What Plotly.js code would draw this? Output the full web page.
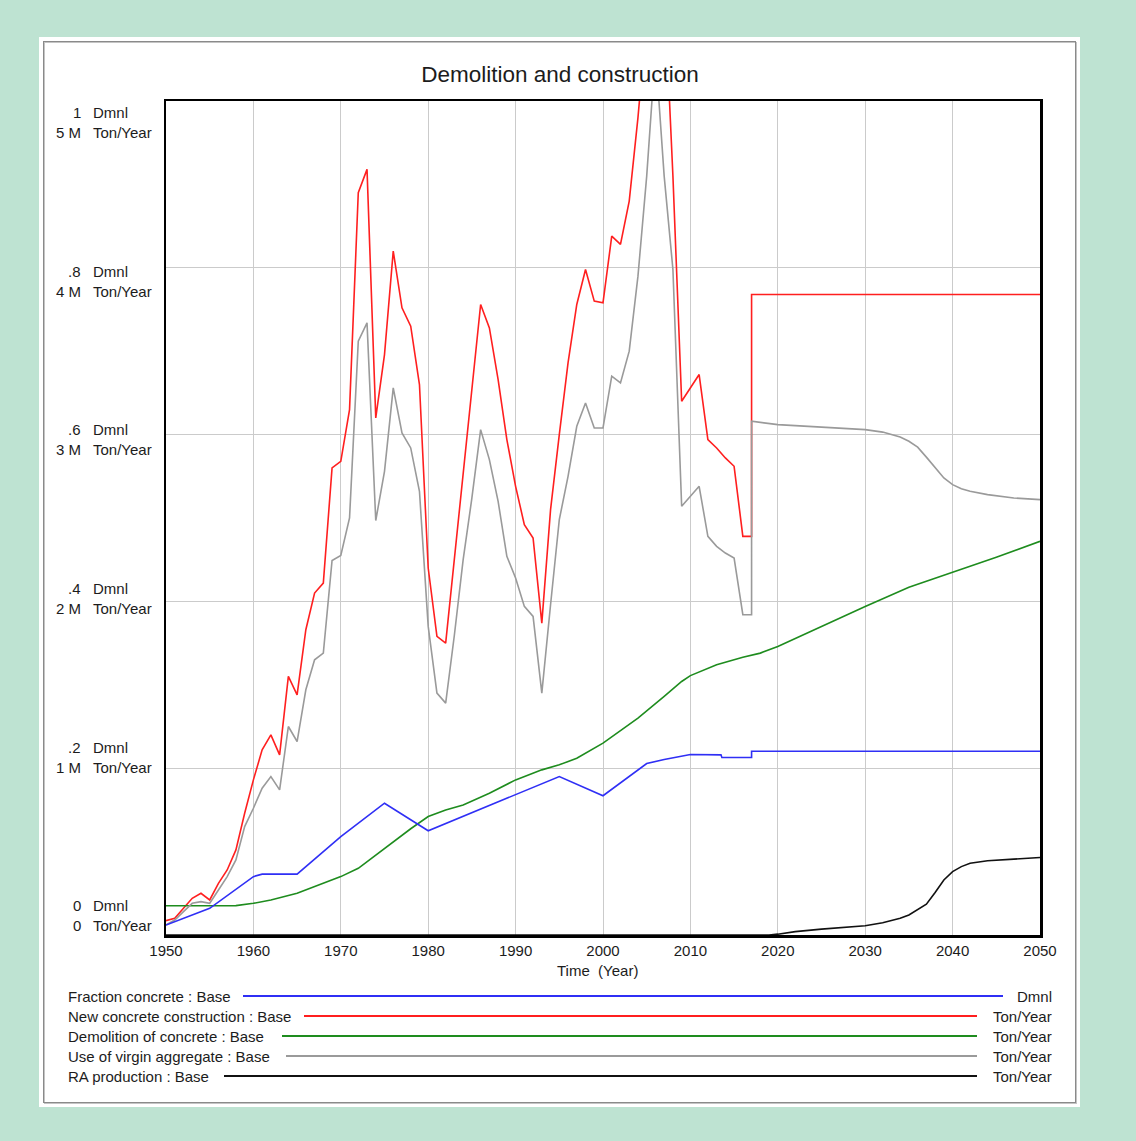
<!DOCTYPE html>
<html>
<head>
<meta charset="utf-8">
<script src="https://cdn.plot.ly/plotly-3.0.1.min.js"></script>
<style>
  html, body { margin:0; padding:0; width:1136px; height:1141px; background:#bee3d2; overflow:hidden; }
  #panel { position:absolute; left:39px; top:37px; width:1041px; height:1070px; background:#ffffff; }
  #frame { position:absolute; left:43px; top:41px; width:1031px; height:1060px; border:1px solid #8a8a8a; box-shadow: inset 1px 1px 0 #c4c4c4, 1px 1px 0 #c4c4c4; }
  #chart { position:absolute; left:0; top:0; width:1136px; height:1141px; }
</style>
</head>
<body>
<div id="panel"></div>
<div id="frame"></div>
<div id="chart"></div>
<script>
// ---------------- DATA ----------------
const histYears = [1950,1951,1952,1953,1954,1955,1956,1957,1958,1959,
                   1960,1961,1962,1963,1964,1965,1966,1967,1968,1969,
                   1970,1971,1972,1973,1974,1975,1976,1977,1978,1979,
                   1980,1981,1982,1983,1984,1985,1986,1987,1988,1989,
                   1990,1991,1992,1993,1994,1995,1996,1997,1998,1999,
                   2000,2001,2002,2003,2004,2005,2006,2007,2008,2009,
                   2010,2011,2012,2013,2014,2015,2016,2017];

// New concrete construction (million Ton/Year)
const newConstructionHist = [0.086,0.10,0.16,0.22,0.25,0.21,0.31,0.39,0.51,0.73,
                             0.93,1.11,1.20,1.08,1.55,1.44,1.83,2.05,2.11,2.80,
                             2.84,3.15,4.45,4.59,3.10,3.48,4.10,3.76,3.65,3.30,
                             2.20,1.79,1.75,2.25,2.75,3.25,3.78,3.64,3.33,2.97,
                             2.69,2.46,2.38,1.87,2.55,3.00,3.43,3.78,3.99,3.80,
                             3.79,4.19,4.14,4.40,4.90,5.50,5.90,5.70,4.55,3.20,
                             3.28,3.36,2.97,2.92,2.86,2.81,2.39,2.39];
const newConstructionFutureYears = [2017, 2050];
const newConstructionFuture = [3.84, 3.84];

// Use of virgin aggregate (million Ton/Year)
const virginHist = [0.06,0.09,0.14,0.19,0.20,0.19,0.27,0.35,0.45,0.65,
                    0.76,0.88,0.95,0.87,1.25,1.16,1.47,1.65,1.69,2.245,
                    2.275,2.50,3.56,3.67,2.485,2.78,3.28,3.01,2.92,2.66,
                    1.85,1.45,1.39,1.80,2.25,2.62,3.03,2.85,2.60,2.27,
                    2.14,1.97,1.91,1.45,1.98,2.49,2.75,3.05,3.19,3.04,
                    3.04,3.35,3.31,3.50,3.95,4.55,5.30,4.55,3.99,2.57,
                    2.63,2.69,2.39,2.33,2.29,2.26,1.92,1.92];
const futureYears = [2017,2020,2025,2030,2032,2034,2035,2036,2037,2038,2039,2040,2041,2042,2044,2047,2050];
const virginFuture = [3.08,3.06,3.045,3.03,3.015,2.985,2.96,2.925,2.865,2.80,2.74,2.70,2.675,2.66,2.64,2.62,2.61];

// RA production (million Ton/Year)
const raYears = [1950,2019,2020,2022,2025,2028,2030,2032,2034,2035,2036,2037,2038,2039,2040,2041,2042,2044,2047,2050];
const raProduction = [0,0,0.005,0.02,0.035,0.047,0.055,0.073,0.10,0.12,0.15,0.185,0.255,0.33,0.38,0.41,0.43,0.445,0.455,0.465];

// Demolition of concrete (million Ton/Year)
const demolitionYears = [1950,1955,1958,1960,1962,1965,1967,1970,1972,1975,1978,1980,1982,1984,1987,1990,1993,1995,1997,2000,
                         2004,2007,2009,2010,2013,2016,2018,2020,2025,2030,2035,2040,2045,2050];
const demolition = [0.175,0.175,0.176,0.19,0.21,0.25,0.29,0.35,0.40,0.52,0.637,0.71,0.75,0.78,0.85,0.93,0.99,1.02,1.06,1.15,
                    1.30,1.43,1.52,1.555,1.62,1.665,1.69,1.73,1.85,1.97,2.085,2.175,2.265,2.36];

// Fraction concrete (Dmnl)
const fractionYears = [1950,1955,1960,1961,1965,1970,1975,1980,1995,2000,2005,2007,2010,2013.5,2013.6,2017,2017,2050];
const fraction = [0.012,0.032,0.070,0.073,0.073,0.118,0.158,0.125,0.190,0.167,0.2056,0.2104,0.2164,0.216,0.2128,0.2128,0.2204,0.2204];

// Labels
const dmnlTickLabels = ['1','.8','.6','.4','.2','0'];
const tonTickLabels = ['5 M','4 M','3 M','2 M','1 M','0'];
const legendNames = ['Fraction concrete : Base','New concrete construction : Base','Demolition of concrete : Base','Use of virgin aggregate : Base','RA production : Base'];
const legendUnits = ['Dmnl','Ton/Year','Ton/Year','Ton/Year','Ton/Year'];
const seriesColors = ['#2f2ff5','#ff1f1f','#1e8c1e','#9a9a9a','#111111'];

// ---------------- LAYOUT HELPERS ----------------
const W = 1136, H = 1141;
const L = 166, R = 1040, T = 101, B = 935;
const px2x = x => (x - L) / (R - L);
const px2y = y => (B - y) / (B - T);
const FONT = 'Liberation Sans, Arial, sans-serif';
const TXT = '#1c1c1c';
const FS = 15;

const lw = 1.6;
const traces = [
  {x: fractionYears, y: fraction, yaxis: 'y2', mode: 'lines', line: {color: seriesColors[0], width: lw}},
  {x: histYears.concat(newConstructionFutureYears), y: newConstructionHist.concat(newConstructionFuture), mode: 'lines', line: {color: seriesColors[1], width: lw}},
  {x: demolitionYears, y: demolition, mode: 'lines', line: {color: seriesColors[2], width: lw}},
  {x: histYears.concat(futureYears), y: virginHist.concat(virginFuture), mode: 'lines', line: {color: seriesColors[3], width: lw}},
  {x: raYears, y: raProduction, mode: 'lines', line: {color: seriesColors[4], width: lw}}
];

const annotations = [];
const shapes = [];
function label(xpx, ypx, anchor, text) {
  annotations.push({xref:'paper', yref:'paper', x: px2x(xpx), y: px2y(ypx), xanchor: anchor, yanchor:'middle',
                    text: text, showarrow:false, borderpad:0, font:{family:FONT, size:FS, color:TXT}});
}
for (let k = 0; k < dmnlTickLabels.length; k++) {
  const yd = T + 11.7 + k * 158.6;
  const yt = yd + 20;
  label(82, yd, 'right', dmnlTickLabels[k]);
  label(92, yd, 'left', 'Dmnl');
  label(82, yt, 'right', tonTickLabels[k]);
  label(92, yt, 'left', 'Ton/Year');
}
// x axis title
label(597, 970, 'center', 'Time  (Year)');

// legend
const legendLineStart = [243, 304, 282, 286, 224];
const legendLineEnd = [1003, 977, 977, 977, 977];
for (let i = 0; i < legendNames.length; i++) {
  const y = 996 + i * 20;
  label(67, y, 'left', legendNames[i]);
  label(1053, y, 'right', legendUnits[i]);
  shapes.push({type:'line', xref:'paper', yref:'paper', x0: px2x(legendLineStart[i]), x1: px2x(legendLineEnd[i]), y0: px2y(y), y1: px2y(y), line:{color: seriesColors[i], width: 2}});
}

const layout = {
  width: W, height: H,
  margin: {l: L, r: W - R, t: T, b: H - B, pad: 0},
  paper_bgcolor: 'rgba(0,0,0,0)',
  plot_bgcolor: '#ffffff',
  showlegend: false,
  font: {family: FONT, color: TXT},
  title: {text: 'Demolition and construction', x: 560 / W, xref: 'container', xanchor: 'center', y: 1 - 74 / H, yref: 'container', yanchor: 'middle', font: {family: FONT, size: 22.5, color: TXT}},
  xaxis: {range: [1950, 2050], dtick: 10, tick0: 1950, showgrid: true, gridcolor: '#cbcbcb', gridwidth: 1,
          zeroline: false, showline: true, linecolor: '#000', linewidth: 2.5, mirror: true, ticks: '',
          tickfont: {family: FONT, size: FS, color: TXT}, ticklabelstandoff: 0},
  yaxis: {range: [0, 5], dtick: 1, showgrid: true, gridcolor: '#cbcbcb', gridwidth: 1, zeroline: false,
          showline: true, linecolor: '#000', linewidth: 2.5, mirror: true, ticks: '', showticklabels: false},
  yaxis2: {range: [0, 1], overlaying: 'y', showgrid: false, zeroline: false, showline: false, showticklabels: false, ticks: ''},
  annotations: annotations,
  shapes: shapes
};

Plotly.newPlot('chart', traces, layout, {displayModeBar: false, staticPlot: true});
</script>
</body>
</html>
